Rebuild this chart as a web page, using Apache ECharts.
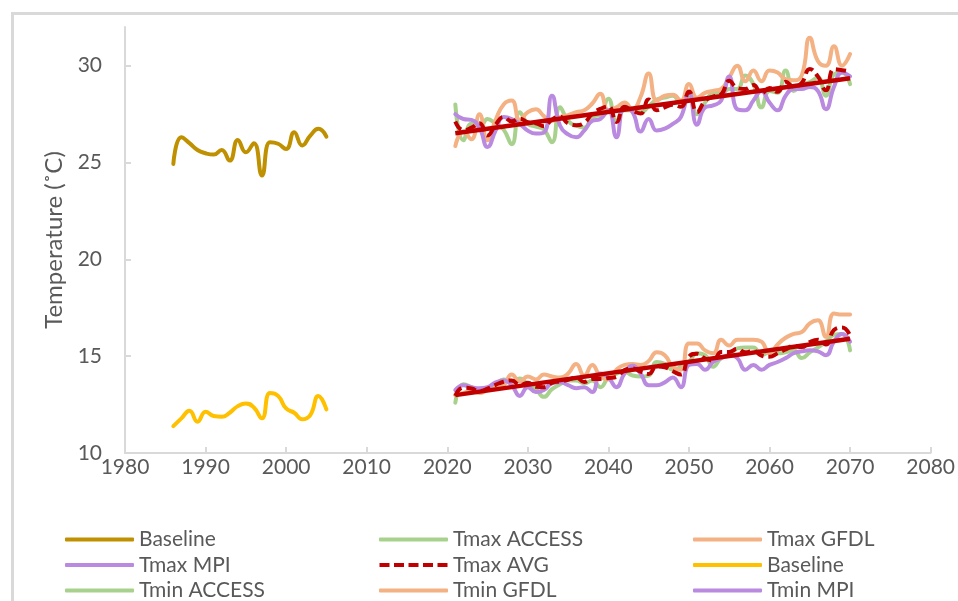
<!DOCTYPE html>
<html>
<head>
<meta charset="utf-8">
<script src="https://cdn.jsdelivr.net/npm/echarts@6/dist/echarts.min.js"></script>
<style>
  html, body { margin: 0; padding: 0; background: #ffffff; }
  #chart { width: 958px; height: 601px; }
</style>
</head>
<body>
<div id="chart"></div>
<script>
// ---- data ----
const baselineStartYear = 1986;
const projStartYear = 2021;

const baselineTmax = [24.93, 26.30, 26.00, 25.65, 25.48, 25.41, 25.65, 25.10, 26.17, 25.53,
                      26.00, 24.33, 26.05, 25.97, 25.70, 26.56, 25.88, 26.39, 26.74, 26.34];
const baselineTmin = [11.39, 11.79, 12.18, 11.62, 12.13, 11.91, 11.87, 12.08, 12.42, 12.56,
                      12.35, 11.79, 13.10, 12.95, 12.30, 12.08, 11.74, 11.96, 12.94, 12.25];

const tmaxAccess = [28.0, 26.15, 27.0, 26.8, 27.25, 27.0, 26.7, 25.95, 27.6, 27.0,
                    26.85, 26.7, 26.05, 27.85, 27.15, 26.9, 26.8, 27.35, 27.5, 28.3,
                    27.15, 27.7, 27.7, 27.6, 27.9, 28.25, 28.35, 28.45, 28.1, 28.35,
                    27.5, 28.1, 28.55, 28.55, 28.8, 28.8, 29.5, 29.05, 27.85, 28.7,
                    28.6, 29.75, 28.7, 29.05, 29.15, 29.4, 28.45, 29.55, 29.65, 29.05];
const tmaxGfdl = [25.85, 26.6, 26.2, 27.5, 26.15, 27.2, 28.0, 28.2, 27.2, 27.6,
                  27.75, 27.4, 27.15, 27.35, 27.45, 27.6, 27.7, 28.05, 28.55, 27.7,
                  27.85, 28.1, 27.75, 28.4, 29.6, 28.2, 28.45, 28.5, 28.2, 29.05,
                  28.35, 28.6, 28.7, 28.8, 29.4, 30.0, 29.2, 29.75, 29.2, 29.75,
                  29.65, 29.3, 29.25, 29.5, 31.45, 30.25, 30.0, 31.0, 30.0, 30.6];
const tmaxMpi = [27.5, 27.25, 27.2, 26.8, 25.8, 26.65, 27.35, 27.25, 27.0, 26.65,
                 26.5, 26.55, 28.45, 26.9, 26.45, 26.3, 26.65, 27.15, 27.25, 27.7,
                 26.3, 27.85, 27.6, 26.6, 27.25, 26.65, 26.75, 27.0, 27.35, 28.6,
                 26.95, 27.85, 27.95, 28.2, 29.45, 27.75, 27.7, 28.2, 28.7, 28.1,
                 27.7, 28.45, 28.8, 28.8, 28.9, 28.7, 27.75, 28.9, 29.65, 29.45];
const tmaxAvg = [27.12, 26.67, 26.8, 27.03, 26.4, 26.95, 27.35, 27.13, 27.27, 27.08,
                 27.03, 26.88, 27.22, 27.37, 27.02, 26.93, 27.05, 27.52, 27.77, 27.9,
                 27.1, 27.88, 27.68, 27.53, 28.25, 27.7, 27.85, 27.98, 27.88, 28.67,
                 27.6, 28.18, 28.4, 28.52, 29.22, 28.85, 28.8, 29.0, 28.58, 28.85,
                 28.65, 29.17, 28.92, 29.12, 29.83, 29.45, 28.73, 29.82, 29.77, 29.7];

const tminAccess = [12.6, 13.55, 13.4, 13.15, 13.3, 13.55, 13.8, 13.7, 13.85, 13.55,
                    13.3, 12.9, 13.3, 13.55, 13.75, 13.75, 13.6, 13.75, 13.4, 13.9,
                    14.1, 14.2, 14.0, 13.95, 14.0, 14.7, 14.6, 14.3, 14.45, 14.7,
                    15.15, 15.05, 14.45, 14.9, 15.05, 15.4, 15.45, 15.45, 15.05, 15.2,
                    15.15, 15.2, 15.3, 14.9, 15.2, 15.45, 15.75, 16.1, 16.15, 15.3];
const tminGfdl = [13.0, 13.1, 13.2, 13.1, 13.25, 13.35, 13.5, 14.05, 13.7, 13.95,
                  13.8, 14.05, 13.95, 13.9, 14.1, 14.6, 14.0, 14.55, 13.95, 13.8,
                  14.3, 14.55, 14.6, 14.55, 14.75, 15.2, 15.05, 14.45, 14.3, 15.65,
                  15.65, 15.3, 15.15, 15.85, 15.55, 15.85, 15.85, 15.85, 15.75, 15.15,
                  15.6, 15.95, 16.15, 16.25, 16.7, 16.85, 16.0, 17.2, 17.15, 17.15];
const tminMpi = [13.25, 13.5, 13.4, 13.35, 13.4, 13.65, 13.75, 13.5, 12.95, 13.4,
                 13.15, 13.25, 13.6, 13.65, 13.5, 13.35, 13.4, 13.15, 14.1, 13.9,
                 13.4, 14.1, 14.5, 14.1, 13.5, 13.5, 13.65, 13.9, 13.4, 14.55,
                 14.6, 14.3, 14.7, 14.9, 15.05, 14.9, 14.3, 14.55, 14.3, 14.55,
                 14.7, 14.9, 15.15, 15.25, 15.3, 15.25, 15.05, 15.75, 16.15, 15.75];
const tminAvg = [12.95, 13.38, 13.33, 13.2, 13.32, 13.52, 13.68, 13.75, 13.5, 13.63,
                 13.42, 13.4, 13.62, 13.7, 13.78, 13.9, 13.67, 13.82, 13.82, 13.87,
                 13.93, 14.28, 14.37, 14.2, 14.08, 14.47, 14.43, 14.22, 14.05, 14.97,
                 15.13, 14.88, 14.77, 15.22, 15.22, 15.38, 15.2, 15.28, 15.03, 14.97,
                 15.15, 15.35, 15.53, 15.47, 15.73, 15.85, 15.6, 16.35, 16.48, 16.07];

// linear trend lines (end points)
const trendYears = [2021, 2070];
const trendTmax = [26.51, 29.35];
const trendTmin = [12.99, 15.9];

const xTicks = [1980, 1990, 2000, 2010, 2020, 2030, 2040, 2050, 2060, 2070, 2080];
const yTicks = [10, 15, 20, 25, 30];

// ---- build ----
function pairs(start, vals) { return vals.map((v, i) => [start + i, v]); }
function pairsXY(xs, ys) { return xs.map((x, i) => [x, ys[i]]); }

const C = {
  gold: '#BF9000', yellow: '#FFC000', green: '#A9D18E',
  orange: '#F4B183', purple: '#B98AE0', red: '#C00000'
};
const LW = 4;
function line(name, data, color, extra) {
  return Object.assign({
    name: name, type: 'line', data: data, smooth: 0.5,
    symbol: 'none', showSymbol: false, silent: true,
    lineStyle: { color: color, width: LW, cap: 'round', join: 'round' },
    itemStyle: { color: color }
  }, extra || {});
}

const series = [
  line('Baseline', pairs(baselineStartYear, baselineTmax), C.gold),
  line('Tmax ACCESS', pairs(projStartYear, tmaxAccess), C.green),
  line('Tmax GFDL', pairs(projStartYear, tmaxGfdl), C.orange),
  line('Tmax MPI', pairs(projStartYear, tmaxMpi), C.purple),
  line('Tmax AVG', pairs(projStartYear, tmaxAvg), C.red,
       { lineStyle: { color: C.red, width: 4, type: [10, 5], cap: 'butt', join: 'round' } }),
  line('Baseline ', pairs(baselineStartYear, baselineTmin), C.yellow),
  line('Tmin ACCESS', pairs(projStartYear, tminAccess), C.green),
  line('Tmin GFDL', pairs(projStartYear, tminGfdl), C.orange),
  line('Tmin MPI', pairs(projStartYear, tminMpi), C.purple),
  line('Tmin AVG', pairs(projStartYear, tminAvg), C.red,
       { lineStyle: { color: C.red, width: 4, type: [10, 5], cap: 'butt', join: 'round' } }),
  line('Linear (Tmax AVG)', pairsXY(trendYears, trendTmax), C.red,
       { smooth: false, lineStyle: { color: C.red, width: 4.5 } }),
  line('Linear (Tmin AVG)', pairsXY(trendYears, trendTmin), C.red,
       { smooth: false, lineStyle: { color: C.red, width: 4.5 } })
];

const FONT = 'Lato, "Open Sans", sans-serif';
const TXT = '#595959';
const DASH_ICON = 'path://M0,0h10v4h-10z M14.5,0h10v4h-10z M29,0h10v4h-10z M43.5,0h10v4h-10z M58,0h10v4h-10z';
function legendCol(left, names) {
  return {
    orient: 'vertical', left: left, top: 529, height: 200, padding: 0,
    data: names.map(n => n === 'Tmax AVG' ? { name: n, icon: DASH_ICON } : { name: n, icon: 'roundRect' }),
    itemWidth: 69, itemHeight: 4, itemGap: 4.5,
    selectedMode: false,
    textStyle: { color: TXT, fontSize: 21, fontFamily: FONT, lineHeight: 21 },
    formatter: n => n.trim()
  };
}

const option = {
  backgroundColor: '#ffffff',
  animation: false,
  graphic: [{
    type: 'rect', left: 10, top: 11, silent: true,
    shape: { x: 0, y: 0, width: 1000, height: 700 },
    style: { fill: 'none', stroke: '#d9d9d9', lineWidth: 3 }
  }],
  grid: { left: 125, right: 27, top: 27, bottom: 148, containLabel: false },
  legend: [
    legendCol(65, ['Baseline', 'Tmax MPI', 'Tmin ACCESS']),
    legendCol(379, ['Tmax ACCESS', 'Tmax AVG', 'Tmin GFDL']),
    legendCol(693, ['Tmax GFDL', 'Baseline ', 'Tmin MPI'])
  ],
  xAxis: {
    type: 'value', min: 1980, max: 2080, interval: 10,
    axisLine: { show: true, lineStyle: { color: '#d9d9d9', width: 2 } },
    axisTick: { show: true, inside: true, length: 6, customValues: xTicks,
                lineStyle: { color: '#d9d9d9', width: 2 } },
    axisLabel: { color: TXT, fontSize: 21, fontFamily: FONT, margin: 4,
                 customValues: xTicks, formatter: v => String(v) },
    splitLine: { show: false }
  },
  yAxis: {
    type: 'value', min: 10, max: 32, interval: 5,
    name: 'Temperature (˚C)', nameLocation: 'middle', nameGap: 54, nameRotate: 90,
    nameTextStyle: { color: TXT, fontSize: 24, fontFamily: FONT },
    axisLine: { show: true, lineStyle: { color: '#d9d9d9', width: 2 } },
    axisTick: { show: true, inside: true, length: 6, customValues: yTicks,
                lineStyle: { color: '#d9d9d9', width: 2 } },
    axisLabel: { color: TXT, fontSize: 21, fontFamily: FONT, margin: 23,
                 customValues: yTicks, formatter: v => String(v) },
    splitLine: { show: false }
  },
  series: series
};

const chart = echarts.init(document.getElementById('chart'), null, { renderer: 'canvas' });
chart.setOption(option);
</script>
</body>
</html>
